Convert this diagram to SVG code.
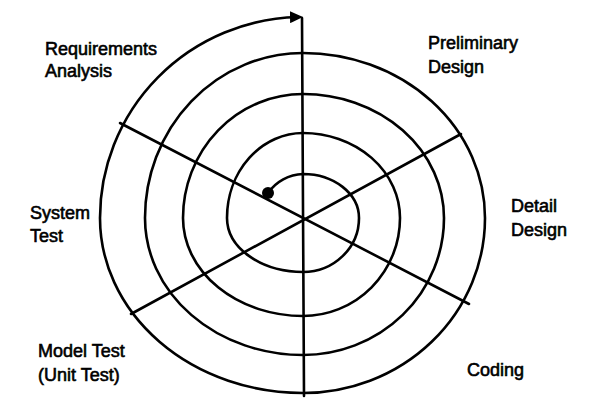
<svg xmlns="http://www.w3.org/2000/svg" width="598" height="408" viewBox="0 0 598 408">
<style>
.ln{fill:none;stroke:#000;stroke-width:2.6;stroke-linecap:round;stroke-linejoin:round}
.lb{font-family:"Liberation Sans",Arial,sans-serif;font-size:18px;fill:#000;stroke:#000;stroke-width:0.6}
</style>
<defs>
<marker id="ah" markerUnits="userSpaceOnUse" markerWidth="14" markerHeight="12" refX="8" refY="6" orient="auto">
<path d="M0,0 L13,6 L0,12 z" fill="#000"/>
</marker>
</defs>
<rect width="598" height="408" fill="#fff"/>
<g id="axes">
<line class="ln" x1="302" y1="18" x2="304" y2="396"/>
<line class="ln" x1="120" y1="123" x2="469" y2="304"/>
<line class="ln" x1="461" y1="134" x2="131" y2="314"/>
</g>
<g id="spiral">
<circle cx="268" cy="193" r="6" fill="#000"/>
<path class="ln" marker-end="url(#ah)" d="M268,193
A44 44 0 0 1 303,174
A56 44 0 0 1 359,218
A56 54 0 0 1 303,272
A76 54 0 0 1 227,218
A76 85 0 0 1 303,133
A97 85 0 0 1 400,218
A97 98 0 0 1 303,316
A120 98 0 0 1 183,218
A120 124 0 0 1 303,94
A141 124 0 0 1 444,218
A141 137 0 0 1 303,355
A158 137 0 0 1 145,218
A158 165 0 0 1 303,53
A182 165 0 0 1 485,218
A182 175 0 0 1 303,393
A203 175 0 0 1 100,218
A203 201 0 0 1 298,17"/>
</g>
<g id="label-requirements"><text class="lb" x="45" y="55">Requirements</text><text class="lb" x="45" y="77">Analysis</text></g>
<g id="label-preliminary"><text class="lb" x="428" y="49">Preliminary</text><text class="lb" x="428" y="73">Design</text></g>
<g id="label-detail"><text class="lb" x="511" y="212">Detail</text><text class="lb" x="511" y="236">Design</text></g>
<g id="label-system"><text class="lb" x="30" y="219">System</text><text class="lb" x="30" y="242">Test</text></g>
<g id="label-model"><text class="lb" x="38" y="357">Model Test</text><text class="lb" x="38" y="381">(Unit Test)</text></g>
<g id="label-coding"><text class="lb" x="467" y="376">Coding</text></g>
</svg>
